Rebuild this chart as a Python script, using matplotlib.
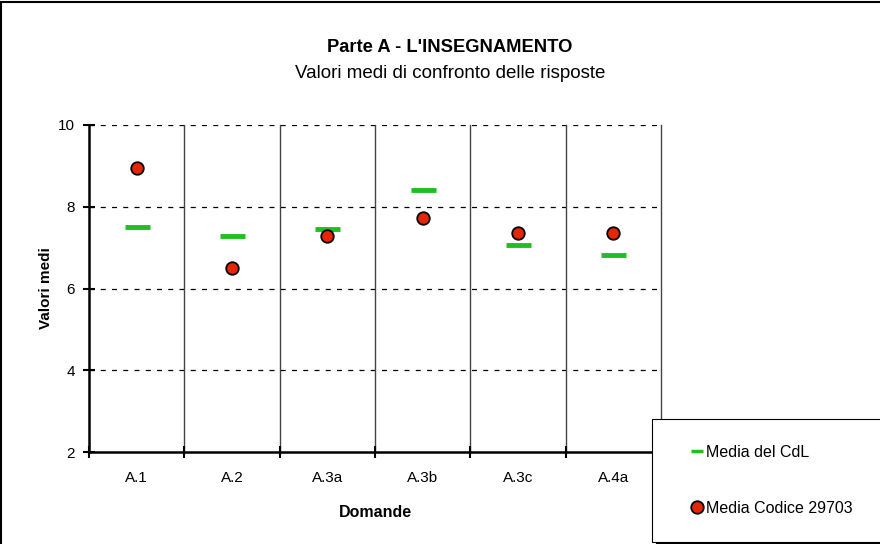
import matplotlib.pyplot as plt
from matplotlib.lines import Line2D
from matplotlib.patches import Rectangle

plt.rcParams['font.family'] = ['Liberation Sans', 'DejaVu Sans']

domande = ['A.1', 'A.2', 'A.3a', 'A.3b', 'A.3c', 'A.4a']
media_cdl = [7.50, 7.28, 7.46, 8.42, 7.06, 6.82]
media_codice = [8.95, 6.50, 7.29, 7.72, 7.37, 7.37]

verde = '#1fbf1f'
rosso = '#e62600'

fig = plt.figure(figsize=(8.8, 5.44), dpi=100)
ax = fig.add_axes([89/880, 1-452/544, 572/880, 327/544])

x = list(range(len(domande)))
ax.plot(x, media_cdl, linestyle='none', marker='_', color=verde,
        markersize=18, markeredgewidth=3.5, zorder=3)
ax.plot(x, media_codice, linestyle='none', marker='o', markerfacecolor=rosso,
        markeredgecolor='black', markersize=9, markeredgewidth=1.3, zorder=4)

ax.set_xlim(-0.5, len(domande) - 0.5)
ax.set_ylim(2, 10)
ax.set_yticks([2, 4, 6, 8, 10])
ax.set_xticks([i - 0.5 for i in range(len(domande) + 1)])
ax.set_xticklabels([])
ax.set_xticks(x, minor=True)
ax.set_xticklabels(domande, minor=True)
ax.tick_params(axis='x', which='minor', length=0, pad=14, labelsize=11)
ax.tick_params(axis='x', which='major', direction='inout', length=8, width=1.5)
ax.tick_params(axis='y', direction='inout', length=8, width=1.5, labelsize=11, pad=6)

for yv in [4, 6, 8, 10]:
    ax.axhline(yv, color='black', linestyle=(0, (4, 5)), linewidth=0.9, zorder=1)
for xv in range(1, len(domande) + 1):
    ax.axvline(xv - 0.5, color='#444444', linewidth=1.0, zorder=1, clip_on=False)

ax.spines['top'].set_visible(False)
ax.spines['right'].set_visible(False)
ax.spines['left'].set_linewidth(1.8)
ax.spines['bottom'].set_linewidth(1.8)

ax.set_xlabel('Domande', fontsize=11.5, fontweight='bold', labelpad=14)
ax.set_ylabel('Valori medi', fontsize=11, fontweight='bold', labelpad=4)

fig.text(450/880, 1-47/544, "Parte A - L'INSEGNAMENTO", ha='center', va='center',
         fontsize=13.2, fontweight='bold')
fig.text(450/880, 1-73/544, 'Valori medi di confronto delle risposte', ha='center',
         va='center', fontsize=13.5)

handles = [
    Line2D([], [], linestyle='none', marker='_', color=verde, markersize=9, markeredgewidth=2.5),
    Line2D([], [], linestyle='none', marker='o', markerfacecolor=rosso, markeredgecolor='black',
           markersize=9, markeredgewidth=1.3),
]
leg = fig.legend(handles, ['Media del CdL', 'Media Codice 29703'], loc='upper left',
                 bbox_to_anchor=(652/880, 1-538/544, 320/880, 119/544), mode='expand',
                 fontsize=11.5, frameon=True, fancybox=False,
                 shadow={'color': 'black', 'alpha': 1, 'ox': 3, 'oy': -3},
                 edgecolor='black', labelspacing=2.6, borderpad=1.6, handlelength=2.4,
                 handletextpad=-0.62, borderaxespad=0)
leg.get_frame().set_linewidth(0.8)

fig.patches.append(Rectangle((1/880, -0.05), 1.1, 1 - 1.5/544 + 0.05, transform=fig.transFigure,
                             fill=False, edgecolor='black', linewidth=1.5))

fig.savefig('out.png', dpi=100)
